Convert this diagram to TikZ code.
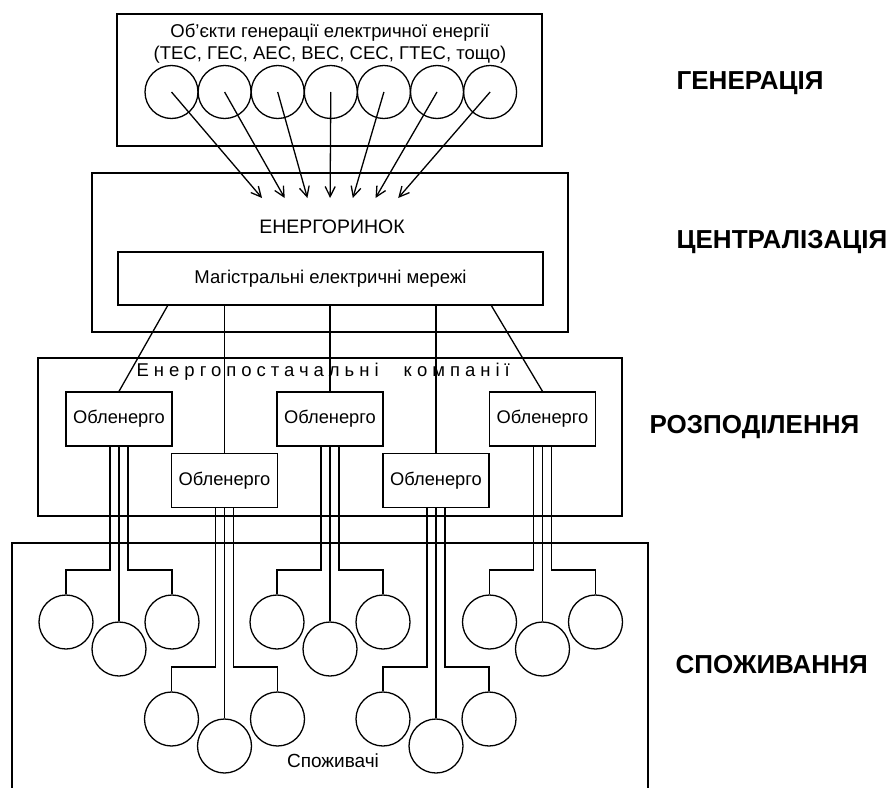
\documentclass[tikz,border=0pt]{standalone}
\usepackage{fontspec}
\setmainfont{Liberation Sans}
\usetikzlibrary{arrows.meta}
\begin{document}
\begin{tikzpicture}[x=1pt,y=-1pt,line width=1.3pt,
  txt/.style={font=\fontsize{18.5}{22}\selectfont},
  obl/.style={draw,rectangle,minimum width=106pt,minimum height=54pt,inner sep=0pt,font=\fontsize{18.3}{22}\selectfont},
  gen/.style={draw,circle,minimum size=53pt,inner sep=0pt},
  cons/.style={draw,circle,minimum size=54pt,inner sep=0pt},
  frame/.style={draw,rectangle,inner sep=0pt},
  lbl/.style={font=\fontsize{26}{30}\selectfont\bfseries,anchor=west,inner sep=0pt},
  arr/.style={-{Straight Barb[length=10pt,width=10pt]}}]
\useasboundingbox (0,0) rectangle (890,787);

% generation
\node[frame,minimum width=425pt,minimum height=132pt] (genbox) at (329.5,80) {};
\node[txt,align=center] (gentext) at (330,44) {Об’єкти генерації електричної енергії\\(ТЕС, ГЕС, АЕС, ВЕС, СЕС, ГТЕС, тощо)};
\foreach \i in {0,...,6} {
  \node[gen] (g\i) at ({171.5+53.1*\i},92) {};
  \coordinate (t\i) at ({262+22.7*\i},198);
  \draw[arr] (g\i.center) -- (t\i);
}

% market
\node[frame,minimum width=476pt,minimum height=159pt] (market) at (330,252.5) {};
\node[txt,font=\fontsize{19.5}{22}\selectfont] (markettext) at (332,227) {ЕНЕРГОРИНОК};
\node[frame,txt,minimum width=425pt,minimum height=53pt] (grid) at (330.5,278.5) {Магістральні електричні мережі};

% distribution
\node[frame,minimum width=584pt,minimum height=158pt] (dist) at (330,437) {};
\node[anchor=west,inner sep=0pt,font=\fontsize{18.5}{22}\selectfont] (disttext) at (136,372) {\addfontfeature{LetterSpace=27}Енергопостачальні\hspace{25pt}компанії};

\node[obl] (o1) at (119,419) {Обленерго};
\node[obl] (o2) at (224.5,480.5) {Обленерго};
\node[obl] (o3) at (330,419) {Обленерго};
\node[obl] (o4) at (436,480.5) {Обленерго};
\node[obl] (o5) at (542.5,419) {Обленерго};

\coordinate (s1) at (168,305);
\coordinate (s5) at (491,305);
\draw (s1) -- (o1.north);
\draw (grid.south -| o2.north) -- (o2.north);
\draw (grid.south -| o3.north) -- (o3.north);
\draw (grid.south -| o4.north) -- (o4.north);
\draw (s5) -- (o5.north);

% consumption
\coordinate (cbl) at (12,790);
\coordinate (ctl) at (12,543);
\coordinate (ctr) at (648,543);
\coordinate (cbr) at (648,790);
\draw (cbl) -- (ctl) -- (ctr) -- (cbr);
\node[txt,font=\fontsize{19}{22}\selectfont] (constext) at (333,761) {Споживачі};

\foreach \b/\c/\by in {o1/119/570,o3/330/570,o5/542.5/570,o2/224.5/667,o4/436/667} {
  \node[cons] (\b-l) at ({\c-53},{\by+52}) {};
  \node[cons] (\b-m) at ({\c},{\by+79}) {};
  \node[cons] (\b-r) at ({\c+53},{\by+52}) {};
  \coordinate (\b-a) at ([xshift=-9pt]\b.south);
  \coordinate (\b-c) at ([xshift=9pt]\b.south);
  \draw (\b-a) -- (\b-a |- 0,\by) -- (\b-l.north |- 0,\by) -- (\b-l.north);
  \draw (\b.south) -- (\b-m.north);
  \draw (\b-c) -- (\b-c |- 0,\by) -- (\b-r.north |- 0,\by) -- (\b-r.north);
}

% stage labels
\node[lbl] (lgen) at (676,83) {ГЕНЕРАЦІЯ};
\node[lbl] (lcen) at (676,242) {ЦЕНТРАЛІЗАЦІЯ};
\node[lbl] (ldist) at (649,427) {РОЗПОДІЛЕННЯ};
\node[lbl] (lcons) at (675,665) {СПОЖИВАННЯ};
\end{tikzpicture}
\end{document}
